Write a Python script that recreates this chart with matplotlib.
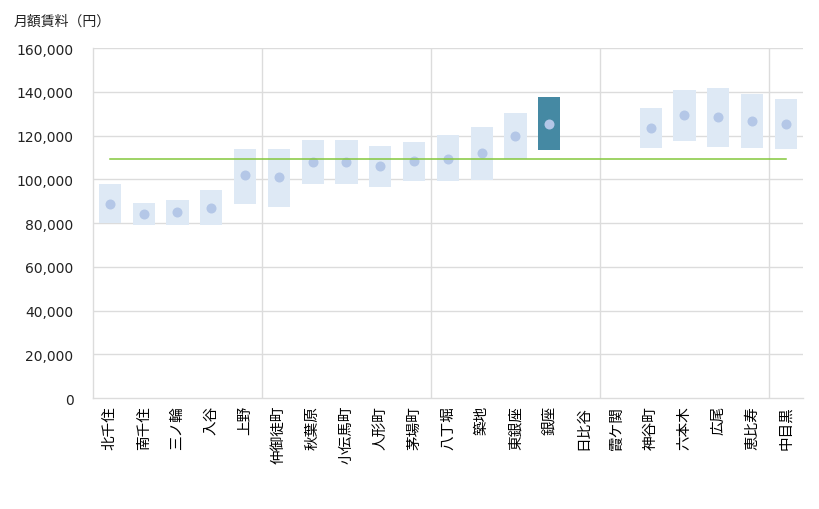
"""Monthly rent ranges by station (Hibiya line)."""

import numpy as np
import matplotlib
matplotlib.use("Agg")
import matplotlib.pyplot as plt

plt.rcParams["font.family"] = ["DejaVu Sans", "Noto Sans CJK JP"]

stations = [
    "北千住", "南千住", "三ノ輪", "入谷", "上野", "仲御徒町", "秋葉原",
    "小伝馬町", "人形町", "茅場町", "八丁堀", "築地", "東銀座", "銀座",
    "日比谷", "霞ケ関", "神谷町", "六本木", "広尾", "恵比寿", "中目黒",
]
rent_low = [80000, 79000, 79200, 79200, 88800, 87500, 98000, 98000, 96600, 99400,
            99400, 99800, 109300, 113300, np.nan, np.nan, 114300, 117600, 114900,
            114300, 113800]
rent_high = [98000, 89000, 90500, 95100, 113800, 113800, 117900, 117900, 115200,
             117000, 120100, 123900, 130300, 137600, np.nan, np.nan, 132600, 140800,
             141700, 139000, 136700]
rent_mean = [88500, 84000, 84900, 86700, 101800, 100900, 107700, 107700, 105900,
             108200, 109100, 111900, 119600, 125100, np.nan, np.nan, 123300, 129200,
             128300, 126500, 125100]
line_average = 109100
highlight = "銀座"

x = np.arange(len(stations))
low = np.array(rent_low, dtype=float)
high = np.array(rent_high, dtype=float)
colors = ["#4589a3" if s == highlight else "#dee9f5" for s in stations]

fig = plt.figure(figsize=(8.2, 5.1), dpi=100)
ax = fig.add_axes([0.1134, 0.2176, 0.8656, 0.6863])

grid_c = "#dcdcdc"
for y in range(20000, 160001, 20000):
    ax.axhline(y, color=grid_c, lw=1, zorder=0)
for gx in [4.5, 9.5, 14.5, 19.5]:
    ax.axvline(gx, color=grid_c, lw=1, zorder=0)

ax.bar(x, high - low, bottom=low, width=0.66, color=colors, zorder=2)
ax.plot(x, rent_mean, "o", ms=7.2, color="#b4c7e7", zorder=3, markeredgewidth=0)
ax.plot([x[0], x[-1]], [line_average, line_average], color="#84c83c", lw=1.1, zorder=4)

ax.set_xlim(-0.5, len(stations) - 0.5)
ax.set_ylim(0, 160000)
ax.set_yticks(range(0, 160001, 20000))
ax.set_yticklabels([f"{v:,}" for v in range(0, 160001, 20000)], fontsize=10, color="#222222")
ax.set_xticks(x)
ax.set_xticklabels(stations, rotation=90, fontsize=10.5, family=["Noto Sans CJK JP", "DejaVu Sans"])
ax.tick_params(axis="both", length=0)
ax.tick_params(axis="y", pad=14)
ax.tick_params(axis="x", pad=5)

for side in ["top", "right"]:
    ax.spines[side].set_visible(False)
for side in ["left", "bottom"]:
    ax.spines[side].set_color(grid_c)
    ax.spines[side].set_linewidth(1)

fig.text(14 / 820, 1 - 22 / 510, "月額賃料（円）", fontsize=10, va="center", ha="left",
         family=["Noto Sans CJK JP", "DejaVu Sans"], color="#222222")

fig.savefig("out.png", dpi=100)
